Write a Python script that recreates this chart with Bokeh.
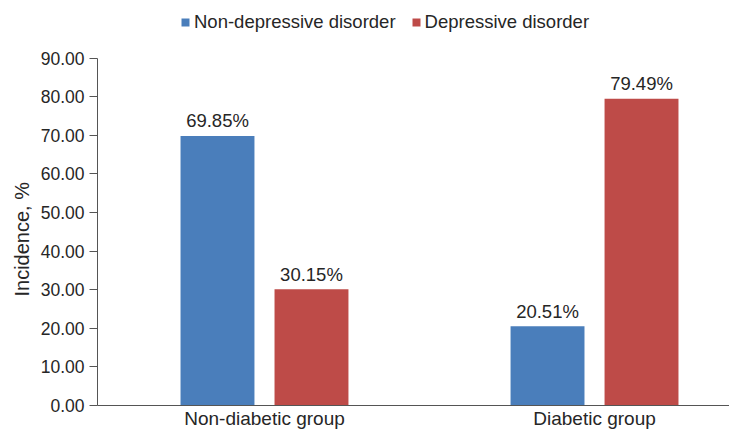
from bokeh.plotting import figure
from bokeh.models import (Range1d, FixedTicker, NumeralTickFormatter, Legend, LegendItem,
                          ColumnDataSource, Title)
from bokeh.core.properties import value
from bokeh.embed import file_html
from bokeh.resources import INLINE

groups = ["Non-diabetic group", "Diabetic group"]
series_names = ["Non-depressive disorder", "Depressive disorder"]
non_depressive = [69.85, 20.51]
depressive = [30.15, 79.49]
y_ticks = [0, 10, 20, 30, 40, 50, 60, 70, 80, 90]
y_label = "Incidence, %"

colors = ["#4a7ebb", "#be4b48"]
FONT = "Liberation Sans"

p = figure(width=729, height=431, output_backend="svg", toolbar_location=None,
           x_range=Range1d(0.494, 2.409), y_range=Range1d(0, 104.44),
           min_border_left=97, min_border_top=2, min_border_bottom=24, min_border_right=0)
p.outline_line_color = None
p.xgrid.visible = False
p.ygrid.visible = False
p.background_fill_color = "white"

pos = [i + 1 for i in range(len(groups))]
offset = 0.1424
bw = 0.224

renderers = []
for k, (vals, col) in enumerate(zip([non_depressive, depressive], colors)):
    xs = [x + (-offset if k == 0 else offset) for x in pos]
    src = ColumnDataSource(dict(x=xs, top=vals, lab=["%.2f%%" % v for v in vals]))
    r = p.vbar(x="x", top="top", width=bw, bottom=0, source=src, fill_color=col, line_color=None)
    renderers.append(r)
    p.text(x="x", y="top", text="lab", source=src, text_align="center",
           text_baseline="alphabetic", y_offset=-15, text_font=value(FONT),
           text_font_size="18.5px", text_color="#262626")

# y axis
yax = p.yaxis[0]
yax.ticker = FixedTicker(ticks=y_ticks)
yax.bounds = (0, 90)
yax.formatter = NumeralTickFormatter(format="0.00")
yax.minor_tick_line_color = None
yax.major_tick_in = 0
yax.major_tick_out = 8
yax.major_label_standoff = 5
yax.major_label_text_font = FONT
yax.major_label_text_font_size = "17.5px"
yax.major_label_text_color = "#262626"
yax.axis_line_color = "#555555"
yax.major_tick_line_color = "#555555"

ytitle = Title(text=y_label, align="left", offset=109, text_font=FONT,
               text_font_style="normal", text_font_size="20px", text_color="#262626")
p.add_layout(ytitle, "left")

# x axis
xax = p.xaxis[0]
xax.ticker = FixedTicker(ticks=pos)
xax.major_label_overrides = {x: g for x, g in zip(pos, groups)}
xax.minor_tick_line_color = None
xax.major_tick_line_color = None
xax.major_tick_in = 0
xax.major_tick_out = 0
xax.major_label_standoff = 2
xax.major_label_text_font = FONT
xax.major_label_text_font_size = "19px"
xax.major_label_text_color = "#262626"
xax.axis_line_color = "#555555"

legend = Legend(items=[LegendItem(label=n, renderers=[r]) for n, r in zip(series_names, renderers)],
                orientation="horizontal", location=(83, 372),
                glyph_width=10, glyph_height=10, label_standoff=4, spacing=15,
                padding=0, margin=0, border_line_color=None, background_fill_alpha=0,
                label_text_font=FONT, label_text_font_size="18.5px", label_text_color="#262626",
                label_height=20)
p.add_layout(legend, "center")

open("out.html", "w").write(file_html(p, INLINE))
